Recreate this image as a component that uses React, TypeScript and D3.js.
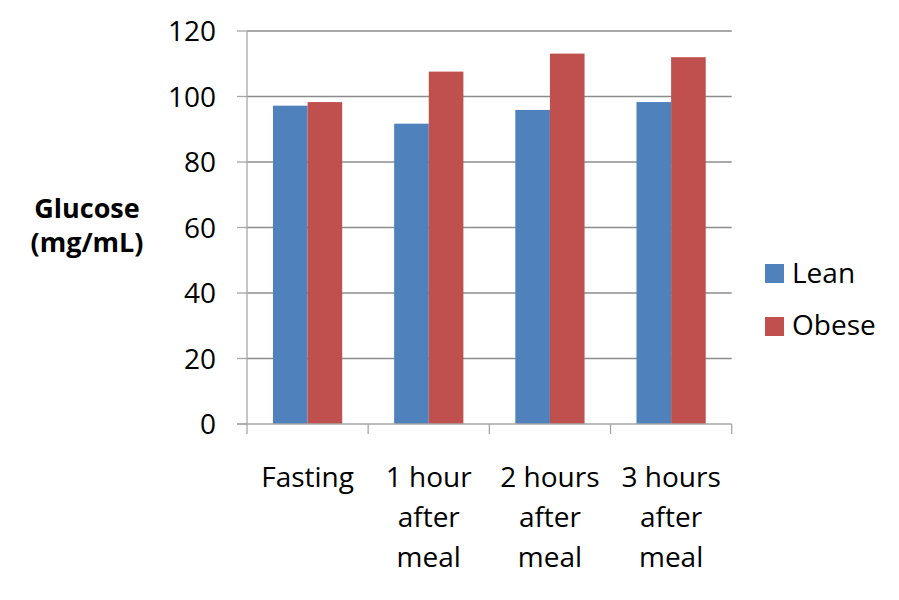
import React from "react";
import * as d3 from "d3";

const categories: string[][] = [
  ["Fasting"],
  ["1 hour", "after", "meal"],
  ["2 hours", "after", "meal"],
  ["3 hours", "after", "meal"],
];
const seriesNames = ["Lean", "Obese"];
const leanValues = [97.2, 91.7, 95.9, 98.3];
const obeseValues = [98.3, 107.6, 113.1, 112.0];
const yTicks = [0, 20, 40, 60, 80, 100, 120];
const colors = ["#4F81BD", "#C0504D"];

export default function App() {
  const W = 899, H = 600;
  const left = 247, right = 731.7, top = 31, bottom = 424;
  const font = "'Open Sans', 'Liberation Sans', sans-serif";

  const x = d3.scaleBand<number>()
    .domain(d3.range(categories.length))
    .range([left, right])
    .paddingInner(0)
    .paddingOuter(0);
  const y = d3.scaleLinear().domain([0, 120]).range([bottom, top]);
  const series = [leanValues, obeseValues];
  const bw = x.bandwidth();
  const barW = bw / 3.5;
  const offset = barW * 0.75;

  return (
    <svg width={W} height={H} style={{ position: "absolute", left: 0, top: 0, background: "#fff" }}>
      {/* gridlines */}
      {yTicks.filter(t => t > 0).map(t => (
        <line key={"g" + t} x1={left} x2={right} y1={y(t)} y2={y(t)} stroke="#8c8c8c" strokeWidth={1.3} />
      ))}
      {/* bars */}
      {series.map((vals, si) =>
        vals.map((v, i) => (
          <rect key={`b${si}-${i}`} x={(x(i) as number) + offset + si * barW} y={y(v)} width={barW} height={y(0) - y(v)} fill={colors[si]} />
        ))
      )}
      {/* y axis */}
      <line x1={left} x2={left} y1={top} y2={bottom} stroke="#a6a6a6" strokeWidth={1.3} />
      {yTicks.map(t => (
        <g key={"t" + t}>
          <line x1={left - 10} x2={left} y1={y(t)} y2={y(t)} stroke="#a6a6a6" strokeWidth={1.3} />
          <text x={216} y={y(t) + 10} textAnchor="end" fontFamily={font} fontSize={28} fill="#000">{t}</text>
        </g>
      ))}
      {/* x axis */}
      <line x1={left - 10} x2={right} y1={bottom} y2={bottom} stroke="#a6a6a6" strokeWidth={1.3} />
      {d3.range(categories.length + 1).map(i => {
        const xx = left + i * bw;
        return <line key={"xt" + i} x1={xx} x2={xx} y1={bottom} y2={bottom + 10} stroke="#a6a6a6" strokeWidth={1.3} />;
      })}
      {categories.map((lines, i) => (
        <text key={"c" + i} textAnchor="middle" fontFamily={font} fontSize={28} fill="#000">
          {lines.map((ln, j) => (
            <tspan key={j} x={(x(i) as number) + bw / 2} y={487 + j * 40}>{ln}</tspan>
          ))}
        </text>
      ))}
      {/* y title */}
      <text x={87} y={218} textAnchor="middle" fontFamily={font} fontSize={27} fontWeight="bold" fill="#000">Glucose</text>
      <text x={87} y={252} textAnchor="middle" fontFamily={font} fontSize={27} fontWeight="bold" fill="#000">(mg/mL)</text>
      {/* legend */}
      {seriesNames.map((n, i) => (
        <g key={"l" + i}>
          <rect x={765} y={264 + i * 53} width={19} height={19} fill={colors[i]} />
          <text x={792} y={283 + i * 52} fontFamily={font} fontSize={28} fill="#000">{n}</text>
        </g>
      ))}
    </svg>
  );
}
